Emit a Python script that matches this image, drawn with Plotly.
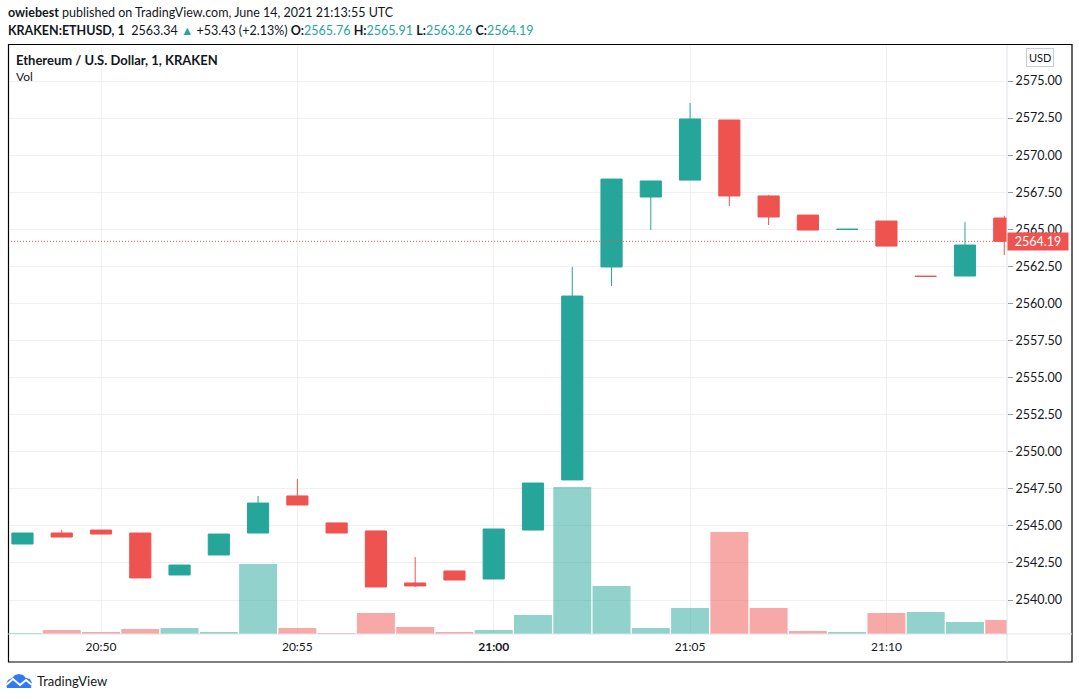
import pandas as pd
import plotly.graph_objects as go

# one-minute candles, KRAKEN:ETHUSD
times = [
    "20:48", "20:49", "20:50", "20:51", "20:52", "20:53", "20:54", "20:55", "20:56",
    "20:57", "20:58", "20:59", "21:00", "21:01", "21:02", "21:03", "21:04", "21:05",
    "21:06", "21:07", "21:08", "21:09", "21:10", "21:11", "21:12", "21:13",
]
opens = [
    2543.78, 2544.52, 2544.72, 2544.52, 2541.69, 2543.04, 2544.52, 2547.02, 2545.20,
    2544.66, 2541.15, 2541.96, 2541.42, 2544.72, 2548.10, 2562.46, 2567.18, 2568.32,
    2572.37, 2567.25, 2565.96, 2565.00, 2565.56, 2561.83, 2561.85, 2565.76,
]
highs = [
    2544.52, 2544.74, 2544.72, 2544.52, 2542.36, 2544.45, 2547.02, 2548.16, 2545.20,
    2544.66, 2542.90, 2541.96, 2544.79, 2547.89, 2562.46, 2568.39, 2568.26, 2573.52,
    2572.37, 2567.31, 2565.96, 2565.00, 2565.56, 2561.83, 2565.49, 2565.91,
]
lows = [
    2543.78, 2544.25, 2544.45, 2541.49, 2541.69, 2543.04, 2544.52, 2546.41, 2544.52,
    2540.88, 2540.88, 2541.35, 2541.42, 2544.72, 2548.10, 2561.18, 2564.95, 2568.32,
    2566.57, 2565.29, 2564.95, 2565.00, 2563.87, 2561.83, 2561.85, 2563.26,
]
closes = [
    2544.52, 2544.25, 2544.45, 2541.49, 2542.36, 2544.45, 2546.54, 2546.41, 2544.52,
    2540.88, 2540.95, 2541.35, 2544.79, 2547.89, 2560.50, 2568.39, 2568.26, 2572.44,
    2567.25, 2565.83, 2564.95, 2565.00, 2563.87, 2561.83, 2563.94, 2564.19,
]
volumes = [
    2, 8, 4, 10, 12, 4, 140, 12, 2, 42, 14, 4, 8, 38, 294, 96, 12, 52,
    204, 52, 6, 4, 42, 44, 24, 28,
]
price_ticks = [2540.0, 2542.5, 2545.0, 2547.5, 2550.0, 2552.5, 2555.0, 2557.5,
               2560.0, 2562.5, 2565.0, 2567.5, 2570.0, 2572.5, 2575.0]
time_ticks = ["20:50", "20:55", "21:00", "21:05", "21:10"]
time_labels = ["20:50", "20:55", "<b>21:00</b>", "21:05", "21:10"]
last_price = 2564.19

UP = "#26a69a"
DOWN = "#ef5350"
TXT = "#131722"
FONT = "Lato"

day = "2021-06-14 "
x = pd.to_datetime([day + t for t in times])
vol_colors = ["rgba(38,166,154,0.5)" if c >= o else "rgba(239,83,80,0.5)"
              for o, c in zip(opens, closes)]

# pixel -> paper helpers; plot area spans page x 8..1007, y 45..634
def xp(px):
    return (px - 8) / 999

def yp(py):
    return (634 - py) / 589

fig = go.Figure()
fig.add_trace(go.Bar(
    x=x, y=volumes, yaxis="y2", marker=dict(color=vol_colors, line_width=0),
    width=58000, hoverinfo="skip",
))
fig.add_trace(go.Candlestick(
    x=x, open=opens, high=highs, low=lows, close=closes,
    increasing=dict(line=dict(color=UP, width=1), fillcolor=UP),
    decreasing=dict(line=dict(color=DOWN, width=1), fillcolor=DOWN),
    whiskerwidth=0,
))

fig.update_layout(
    width=1079, height=699,
    margin=dict(l=8, r=72, t=45, b=65),
    paper_bgcolor="white", plot_bgcolor="white",
    showlegend=False, boxgap=0.23,
    font=dict(family=FONT, size=12, color=TXT),
    xaxis=dict(
        range=[pd.Timestamp(day + "20:47:37.9"), pd.Timestamp(day + "21:13:04.2")],
        rangeslider=dict(visible=False),
        tickvals=pd.to_datetime([day + t for t in time_ticks]),
        ticktext=time_labels, ticks="", showgrid=True, gridcolor="#f0f0f0",
        zeroline=False, showline=False, ticklabelstandoff=4,
        tickfont=dict(size=12, color=TXT),
    ),
    yaxis=dict(
        range=[2537.71, 2577.43], side="right", tickvals=price_ticks,
        tickformat=".2f", ticks="outside", ticklen=5, tickcolor="#9598a1",
        showgrid=True, gridcolor="#f0f0f0", zeroline=False,
        tickfont=dict(size=12.5, color=TXT),
    ),
    yaxis2=dict(range=[0, 1178], overlaying="y", visible=False),
)

# dotted last-price line and its label
fig.add_shape(type="line", xref="paper", yref="y", x0=0, x1=1,
              y0=last_price, y1=last_price, line=dict(color=DOWN, width=1, dash="1px,2px"))
fig.add_annotation(xref="paper", yref="y", x=1, y=last_price, xanchor="left",
                   yanchor="middle", text=f"{last_price:.2f}", showarrow=False,
                   bgcolor=DOWN, font=dict(color="white", size=12.5), width=58,
                   height=15, borderpad=1, align="center")

# frame and separators
fig.add_shape(type="rect", xref="paper", yref="paper", x0=xp(8.5), x1=xp(1072),
              y0=yp(662), y1=yp(44.5), line=dict(color="black", width=1.2))
fig.add_shape(type="line", xref="paper", yref="paper", x0=1, x1=1,
              y0=yp(662), y1=1, line=dict(color="#e0e3eb", width=1))
fig.add_shape(type="line", xref="paper", yref="paper", x0=0, x1=xp(1072),
              y0=0, y1=0, line=dict(color="#e0e3eb", width=1))

# USD badge
fig.add_annotation(xref="paper", yref="paper", x=xp(1040), y=yp(58), text="USD",
                   xanchor="center", yanchor="middle",
                   showarrow=False, font=dict(size=11, color=TXT),
                   bordercolor="#c9ccd4", borderwidth=1, borderpad=2)

# header lines
fig.add_annotation(xref="paper", yref="paper", x=xp(6), y=yp(12), xanchor="left",
                   yanchor="middle", showarrow=False, font=dict(size=12.5, color=TXT),
                   text="<b>owiebest</b> published on TradingView.com, June 14, 2021 21:13:55 UTC")
teal = lambda s: f"<span style='color:{UP}'>{s}</span>"
fig.add_annotation(xref="paper", yref="paper", x=xp(6), y=yp(30), xanchor="left",
                   yanchor="middle", showarrow=False, font=dict(size=12.5, color=TXT),
                   text="<b>KRAKEN:ETHUSD, 1</b>  2563.34 " + teal("▲") + " +53.43 (+2.13%) "
                        + "<b>O:</b>" + teal("2565.76") + " <b>H:</b>" + teal("2565.91")
                        + " <b>L:</b>" + teal("2563.26") + " <b>C:</b>" + teal("2564.19"))

# pane legend
fig.add_annotation(xref="paper", yref="paper", x=xp(14), y=yp(60), xanchor="left",
                   yanchor="middle", showarrow=False, font=dict(size=13, color=TXT),
                   text="<b>Ethereum / U.S. Dollar, 1, KRAKEN</b>")
fig.add_annotation(xref="paper", yref="paper", x=xp(14), y=yp(77), xanchor="left",
                   yanchor="middle", showarrow=False, font=dict(size=12, color=TXT),
                   text="Vol")

# TradingView footer logo
def path(points, close=True):
    s = "M " + " L ".join(f"{xp(a)},{yp(b)}" for a, b in points)
    return s + (" Z" if close else "")

fig.add_shape(type="path", xref="paper", yref="paper",
              path=path([(7, 688), (6, 684), (8, 680), (12, 678), (15, 675), (19, 674),
                         (23, 675), (26, 678), (30, 679), (32, 683), (31, 688)]),
              fillcolor="#3179f5", line=dict(width=0))
fig.add_shape(type="path", xref="paper", yref="paper",
              path=path([(6, 685), (13, 679), (20, 685), (26, 680), (32, 685)], close=False),
              line=dict(color="white", width=2))
fig.add_annotation(xref="paper", yref="paper", x=xp(35), y=yp(681), xanchor="left",
                   yanchor="middle", showarrow=False, font=dict(size=13, color=TXT),
                   text="TradingView")

# the page body has a default 8px margin; drop it so the figure sits at (0, 0)
fig.write_html("out.html", config={"displayModeBar": False},
               post_script="document.body.style.margin='0px';")
